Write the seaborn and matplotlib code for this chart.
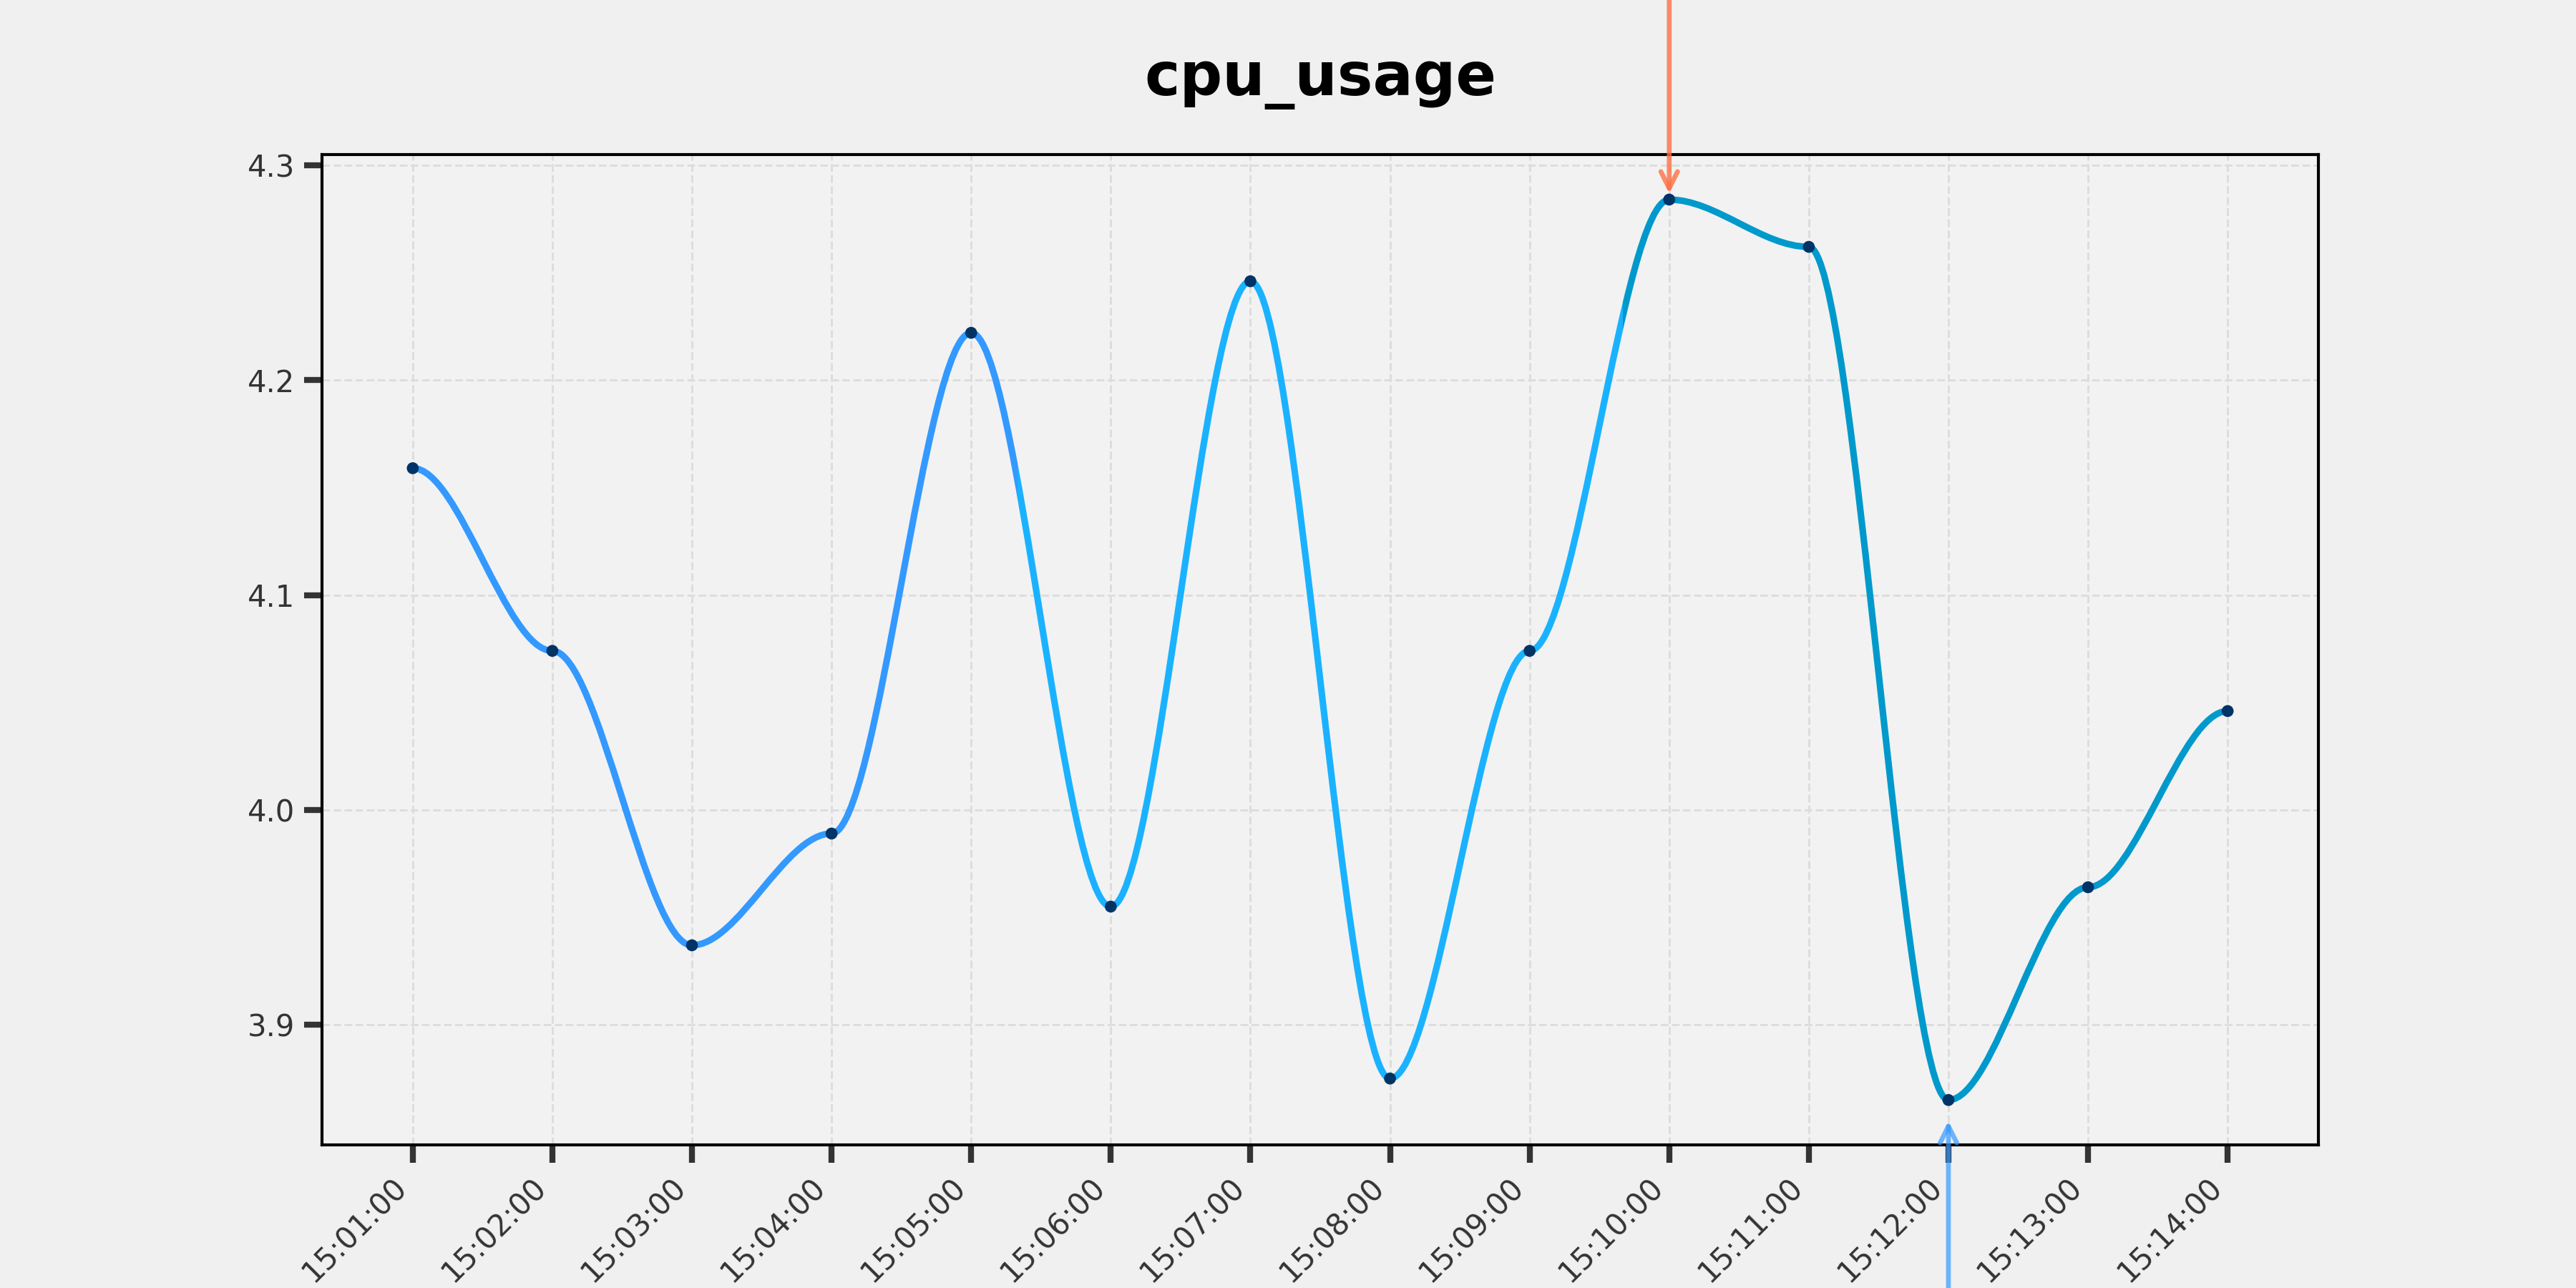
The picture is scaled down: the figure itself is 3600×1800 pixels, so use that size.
import numpy as np
import pandas as pd
import matplotlib
matplotlib.use("Agg")
import matplotlib.pyplot as plt
import matplotlib.dates as mdates
from matplotlib.path import Path
from matplotlib.patches import PathPatch, Rectangle
import seaborn as sns

# ==========================================
# Data
# ==========================================
TIMES = ["15:01:00", "15:02:00", "15:03:00", "15:04:00", "15:05:00", "15:06:00", "15:07:00",
         "15:08:00", "15:09:00", "15:10:00", "15:11:00", "15:12:00", "15:13:00", "15:14:00"]
CPU_USAGE = [4.159, 4.074, 3.937, 3.989, 4.222, 3.955, 4.246,
             3.875, 4.074, 4.284, 4.262, 3.865, 3.964, 4.046]

# Style
LINE_COLORS = ["#3399FF", "#1AB2FF", "#0099CC"]
POINT_COLOR = "#003366"
MAX_COLOR = "#FF7043"
MIN_COLOR = "#3399FF"
FIG_BG = "#F0F0F0"
AX_BG = "#F2F2F2"


def smooth_path(xs, ys):
    """Cubic bezier through every point with flat handles (matplotlib draws the curve)."""
    verts = [(xs[0], ys[0])]
    codes = [Path.MOVETO]
    for i in range(len(xs) - 1):
        dx = xs[i + 1] - xs[i]
        verts += [(xs[i] + dx / 3, ys[i]), (xs[i + 1] - dx / 3, ys[i + 1]), (xs[i + 1], ys[i + 1])]
        codes += [Path.CURVE4] * 3
    return Path(verts, codes)


df = pd.DataFrame({"time": pd.to_datetime(["2024-01-01 " + t for t in TIMES]),
                   "cpu_usage": CPU_USAGE})
xnum = mdates.date2num(df["time"])

sns.set_theme(style="ticks")
plt.rcParams["font.family"] = ["DejaVu Sans"]

fig, ax = plt.subplots(figsize=(12, 6), dpi=300)
fig.patch.set_facecolor(FIG_BG)
ax.set_facecolor(AX_BG)

# smooth line, coloured in three equal chunks along time
path = smooth_path(xnum, df["cpu_usage"].values)
edges = np.linspace(xnum[0], xnum[-1], len(LINE_COLORS) + 1)
for i, col in enumerate(LINE_COLORS):
    patch = PathPatch(path, facecolor="none", edgecolor=col, lw=2.2, capstyle="round", zorder=3)
    ax.add_patch(patch)
    clip = Rectangle((edges[i], 0), edges[i + 1] - edges[i], 10, transform=ax.transData)
    patch.set_clip_path(clip)

sns.scatterplot(data=df, x="time", y="cpu_usage", color=POINT_COLOR, s=16,
                edgecolor="none", zorder=4, ax=ax)

# max / min arrows
imax = int(np.argmax(CPU_USAGE))
imin = int(np.argmin(CPU_USAGE))
ax.annotate("", xy=(xnum[imax], CPU_USAGE[imax]), xytext=(0, 100), textcoords="offset points",
            arrowprops=dict(arrowstyle="->", color=MAX_COLOR, alpha=0.8, lw=1.6,
                            shrinkA=0, shrinkB=2, mutation_scale=14),
            annotation_clip=False, zorder=5)
ax.annotate("", xy=(xnum[imin], CPU_USAGE[imin]), xytext=(0, -100), textcoords="offset points",
            arrowprops=dict(arrowstyle="->", color=MIN_COLOR, alpha=0.7, lw=1.6,
                            shrinkA=0, shrinkB=7, mutation_scale=14),
            annotation_clip=False, zorder=5)

ax.xaxis.set_major_locator(mdates.MinuteLocator(interval=1))
ax.xaxis.set_major_formatter(mdates.DateFormatter("%H:%M:%S"))
plt.setp(ax.get_xticklabels(), rotation=45, ha="right")

ax.grid(True, linestyle="--", color="#DDDDDD", linewidth=0.7)
ax.set_axisbelow(True)
ax.tick_params(axis="both", length=6, width=2, color="#333333", labelcolor="#333333",
               labelsize=10, pad=3)
for sp in ax.spines.values():
    sp.set_visible(True)
    sp.set_color("black")
    sp.set_linewidth(1.0)

ax.set_xlabel("")
ax.set_ylabel("")
ax.set_title("cpu_usage", fontsize=20, fontweight="bold", color="black", pad=20)

fig.subplots_adjust(left=0.125, right=0.9, top=0.88, bottom=0.111)
fig.savefig("out.png", dpi=300, facecolor=FIG_BG)
